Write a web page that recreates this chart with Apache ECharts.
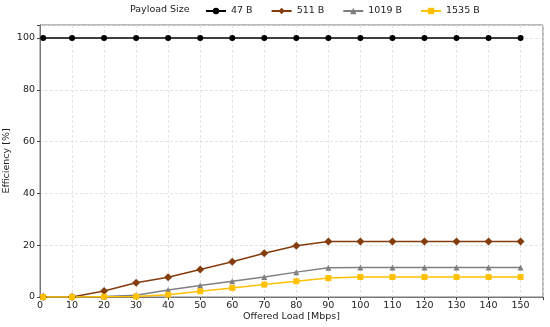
<!DOCTYPE html>
<html><head><meta charset="utf-8">
<script src="https://cdn.jsdelivr.net/npm/echarts@6/dist/echarts.min.js"></script>
<style>html,body{margin:0;padding:0;background:#fff}#c{width:550px;height:327px}</style>
</head><body><div id="c"></div>
<script>
const loads = [1, 10, 20, 30, 40, 50, 60, 70, 80, 90, 100, 110, 120, 130, 140, 150];
const eff47 = [100, 100, 100, 100, 100, 100, 100, 100, 100, 100, 100, 100, 100, 100, 100, 100];
const eff511 = [0, 0, 2.3, 5.5, 7.6, 10.6, 13.6, 16.9, 19.8, 21.4, 21.4, 21.4, 21.4, 21.4, 21.4, 21.4];
const eff1019 = [0, 0, 0.2, 0.7, 2.7, 4.4, 6.1, 7.7, 9.6, 11.3, 11.4, 11.4, 11.4, 11.4, 11.4, 11.4];
const eff1535 = [0, 0, 0.1, 0.2, 0.9, 2.2, 3.5, 4.8, 6.1, 7.3, 7.7, 7.7, 7.7, 7.7, 7.7, 7.7];
const seriesNames = ['47 B', '511 B', '1019 B', '1535 B'];
const legendTitle = 'Payload Size';

const font = 'DejaVu Sans';
const pairs = ys => loads.map((x, i) => [x, ys[i]]);
const mk = (name, ys, color, symbol, size) => ({
  name, type: 'line', data: pairs(ys), symbol, symbolSize: size,
  lineStyle: { color, width: 1.5 }, itemStyle: { color },
  emphasis: { disabled: true }
});
const chart = echarts.init(document.getElementById('c'));
const tickFmt = v => (Math.abs(v % 10) < 1e-9 ? String(v) : '');
chart.setOption({
  animation: false,
  textStyle: { fontFamily: font },
  grid: { left: 40, right: 7, top: 25, bottom: 30, containLabel: false, outerBoundsMode: 'none', show: true, borderColor: '#777', borderWidth: 1, backgroundColor: 'transparent' },
  graphic: [{ type: 'text', left: 130, top: 5, style: { text: legendTitle, font: '9.5px ' + font, fill: '#222' } }],
  legend: {
    left: 200, top: 1, itemWidth: 20, itemHeight: 8, itemGap: 18,
    textStyle: { fontFamily: font, fontSize: 9.5, color: '#222' },
    data: seriesNames
  },
  xAxis: {
    type: 'value', min: 0, max: 157, interval: 10,
    name: 'Offered Load [Mbps]', nameLocation: 'middle', nameGap: 15, nameMoveOverlap: false,
    nameTextStyle: { fontFamily: font, fontSize: 9.5, color: '#222' },
    axisLine: { show: true, lineStyle: { color: '#777' } },
    axisTick: { show: true, length: 3, lineStyle: { color: '#444' } },
    axisLabel: { formatter: tickFmt, fontFamily: font, fontSize: 9.5, color: '#222', margin: 4 },
    splitLine: { show: true, lineStyle: { color: '#ddd', type: [3, 2], width: 0.8 } }
  },
  yAxis: {
    type: 'value', min: 0, max: 105, interval: 20,
    name: 'Efficiency [%]', nameLocation: 'middle', nameGap: 28, nameMoveOverlap: false,
    nameTextStyle: { fontFamily: font, fontSize: 9.5, color: '#222' },
    axisLine: { show: true, lineStyle: { color: '#777' } },
    axisTick: { show: true, length: 3, lineStyle: { color: '#444' } },
    axisLabel: { formatter: tickFmt, fontFamily: font, fontSize: 9.5, color: '#222', margin: 5 },
    splitLine: { show: true, lineStyle: { color: '#ddd', type: [3, 2], width: 0.8 } }
  },
  series: [
    mk(seriesNames[0], eff47, '#000000', 'circle', 6),
    mk(seriesNames[1], eff511, '#843c0c', 'diamond', 8),
    mk(seriesNames[2], eff1019, '#808080', 'triangle', 6),
    mk(seriesNames[3], eff1535, '#ffc000', 'rect', 6)
  ]
});
</script></body></html>
